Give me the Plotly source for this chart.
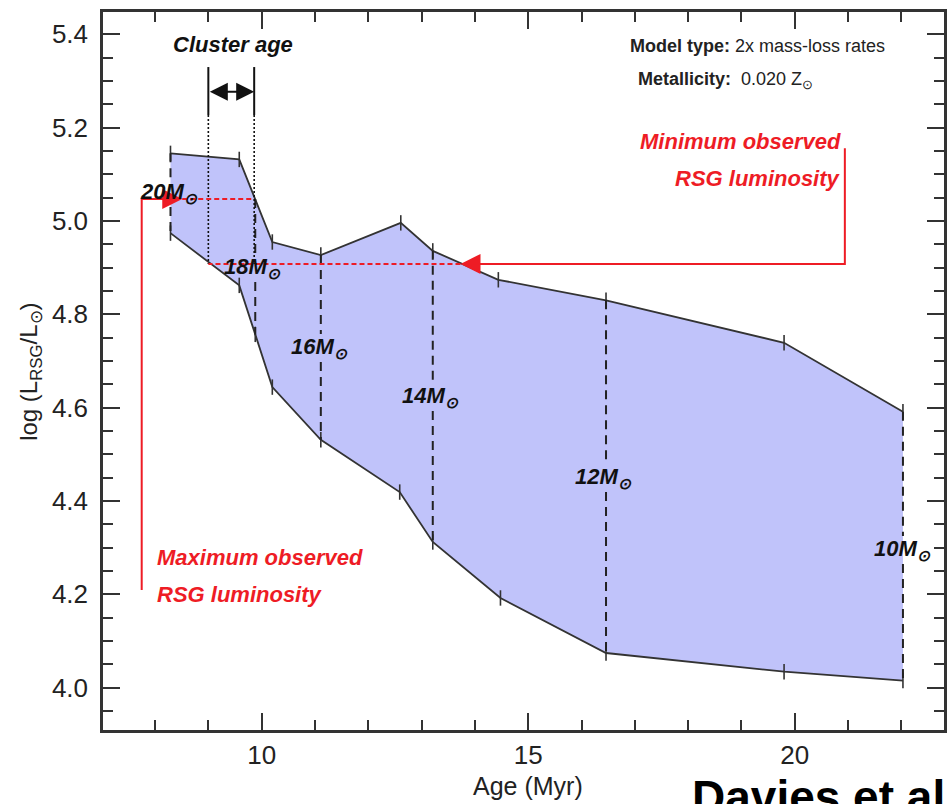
import plotly.graph_objects as go

# Envelope of red-supergiant luminosity versus cluster age
upper_age = [8.29, 9.58, 10.20, 11.11, 12.61, 13.21, 14.44, 16.46, 19.80, 22.03]
upper_logL = [5.145, 5.132, 4.955, 4.927, 4.996, 4.936, 4.874, 4.830, 4.739, 4.591]
lower_age = [8.29, 9.58, 9.88, 10.20, 11.11, 12.59, 13.21, 14.48, 16.46, 19.80, 22.03]
lower_logL = [4.974, 4.862, 4.757, 4.644, 4.531, 4.419, 4.312, 4.192, 4.074, 4.034, 4.015]

# Individual mass tracks (dashed verticals) and their labels
track_mass = ["20", "18", "16", "14", "12", "10"]
track_age = [8.29, 9.88, 11.11, 13.21, 16.46, 22.03]
track_top = [5.145, 5.047, 4.927, 4.936, 4.830, 4.591]
track_bottom = [4.974, 4.757, 4.531, 4.312, 4.074, 4.015]
label_age = [8.27, 9.82, 11.09, 13.17, 16.42, 22.03]
label_logL = [5.060, 4.899, 4.728, 4.623, 4.449, 4.295]

# Cluster age bracket and observed RSG luminosity limits
cluster_age = [9.0, 9.86]
cluster_bar_top = 5.33
cluster_bar_mid = 5.227
cluster_arrow_logL = 5.277
L_obs_max = 5.047
L_obs_min = 4.908
max_arrow_x, max_arrow_from, max_arrow_tip = 7.75, 4.209, 8.51
min_arrow_x, min_arrow_from, min_arrow_tip = 20.94, 5.156, 13.73

FILL = "#c0c3fa"
EDGE = "#333333"
RED = "#ee1c25"
SANS = "Liberation Sans, Arial, sans-serif"
GAP = 0.03

fig = go.Figure()

# shaded region
fig.add_trace(go.Scatter(
    x=upper_age + lower_age[::-1], y=upper_logL + lower_logL[::-1],
    mode="lines", fill="toself", fillcolor=FILL, line=dict(width=0),
    hoverinfo="skip"))

# upper and lower envelopes with vertex ticks
for xs, ys in ((upper_age, upper_logL), (lower_age, lower_logL)):
    fig.add_trace(go.Scatter(
        x=xs, y=ys, mode="lines+markers",
        line=dict(color=EDGE, width=1.8),
        marker=dict(symbol="line-ns-open", size=11, color=EDGE,
                    line=dict(width=1.6, color=EDGE))))

# dashed mass tracks, broken where the label sits
dx, dy = [], []
for a, top, bot, ly in zip(track_age, track_top, track_bottom, label_logL):
    if bot < ly < top:
        dx += [a, a, None, a, a, None]
        dy += [top, min(top, ly + GAP), None, max(bot, ly - GAP), bot, None]
    else:
        dx += [a, a, None]
        dy += [top, bot, None]
fig.add_trace(go.Scatter(x=dx, y=dy, mode="lines",
                         line=dict(color="#222222", width=2, dash="9px,6px")))

# cluster age bracket: solid caps then dotted guides
cx, cy, sx, sy = [], [], [], []
for a in cluster_age:
    sx += [a, a, None]
    sy += [cluster_bar_top, cluster_bar_mid, None]
    cx += [a, a, None]
    cy += [cluster_bar_mid, L_obs_min, None]
fig.add_trace(go.Scatter(x=sx, y=sy, mode="lines", line=dict(color="#111111", width=2)))
fig.add_trace(go.Scatter(x=cx, y=cy, mode="lines",
                         line=dict(color="#111111", width=1.6, dash="2px,2px")))

# red observed-luminosity guides
fig.add_trace(go.Scatter(
    x=[max_arrow_tip, cluster_age[1], None, min_arrow_tip, cluster_age[0]],
    y=[L_obs_max, L_obs_max, None, L_obs_min, L_obs_min],
    mode="lines", line=dict(color=RED, width=2, dash="5px,3px")))
fig.add_trace(go.Scatter(
    x=[max_arrow_x, max_arrow_x, max_arrow_tip - 0.2, None,
       min_arrow_x, min_arrow_x, min_arrow_tip + 0.2],
    y=[max_arrow_from, L_obs_max, L_obs_max, None,
       min_arrow_from, L_obs_min, L_obs_min],
    mode="lines", line=dict(color=RED, width=2)))

annotations = []
# arrowheads
for tip, start, ly in ((max_arrow_tip, max_arrow_x, L_obs_max),
                       (min_arrow_tip, min_arrow_x, L_obs_min)):
    annotations.append(dict(x=tip, y=ly, ax=tip + (start - tip) * 0.3, ay=ly,
                            xref="x", yref="y", axref="x", ayref="y", text="",
                            showarrow=True, arrowhead=2, arrowsize=2,
                            arrowwidth=2, arrowcolor=RED))
annotations.append(dict(x=cluster_age[1], y=cluster_arrow_logL, ax=cluster_age[0],
                        ay=cluster_arrow_logL, xref="x", yref="y", axref="x", ayref="y",
                        text="", showarrow=True, arrowhead=2, arrowside="end+start",
                        arrowsize=1.8, arrowwidth=2, arrowcolor="#111111"))

lab_font = dict(family=SANS, size=22, color="#111111", weight="bold", style="italic")
for m, a, ly in zip(track_mass, label_age, label_logL):
    annotations.append(dict(x=a, y=ly, xref="x", yref="y", showarrow=False,
                            text=f"{m}M<sub>⊙</sub>", font=lab_font))

annotations.append(dict(x=9.47, y=5.379, xref="x", yref="y",
                        showarrow=False, text="Cluster age", font=lab_font))

red_font = dict(family=SANS, size=22, color=RED, weight="bold", style="italic")
annotations += [
    dict(x=20.9, y=5.171, xref="x", yref="y", xanchor="right", showarrow=False,
         text="Minimum observed", font=red_font),
    dict(x=20.9, y=5.092, xref="x", yref="y", xanchor="right", showarrow=False,
         text="RSG luminosity", font=red_font),
    dict(x=8.0, y=4.278, xref="x", yref="y", xanchor="left", showarrow=False,
         text="Maximum observed", font=red_font),
    dict(x=8.0, y=4.199, xref="x", yref="y", xanchor="left", showarrow=False,
         text="RSG luminosity", font=red_font),
]

info_font = dict(family=SANS, size=18, color="#222222")
annotations += [
    dict(x=16.87, y=5.375, xref="x", yref="y", xanchor="left", showarrow=False,
         text="<b>Model type:</b> 2x mass-loss rates", font=info_font),
    dict(x=17.02, y=5.302, xref="x", yref="y", xanchor="left", showarrow=False,
         text="<b>Metallicity:</b>  0.020 Z<sub>⊙</sub>", font=info_font),
]

# axis titles
annotations += [
    dict(x=-0.087, y=0.4986, xref="paper", yref="paper", xanchor="center",
         yanchor="middle", showarrow=False, textangle=-90,
         text="log (L<sub>RSG</sub>/L<sub>⊙</sub>)",
         font=dict(family=SANS, size=24, color="#222222")),
    dict(x=0.505, y=-0.078, xref="paper", yref="paper", xanchor="center",
         yanchor="middle", showarrow=False,
         text="Age (Myr)", font=dict(family=SANS, size=25, color="#222222")),
    dict(x=0.698, y=-0.055, xref="paper", yref="paper", xanchor="left", yanchor="top",
         showarrow=False, text="<b>Davies et al</b>",
         font=dict(family=SANS, size=46, color="#000000")),
]

axis_common = dict(showgrid=False, zeroline=False, showline=True, linewidth=2.5,
                   linecolor=EDGE, mirror="ticks", ticks="inside", ticklen=17,
                   tickwidth=2, tickcolor=EDGE,
                   tickfont=dict(family=SANS, size=26, color="#222222"))

fig.update_layout(
    width=947, height=804,
    margin=dict(l=103, r=0, t=12, b=74),
    paper_bgcolor="white", plot_bgcolor="white",
    showlegend=False,
    xaxis=dict(range=[7.024, 22.80], tick0=0, dtick=5, ticklabelstandoff=0,
               minor=dict(dtick=1, tick0=0, ticks="inside", ticklen=10,
                          tickwidth=1.6, tickcolor=EDGE, showgrid=False),
               **axis_common),
    yaxis=dict(range=[3.909, 5.448], tick0=4.0, dtick=0.2, tickformat=".1f",
               ticklabelstandoff=7,
               minor=dict(dtick=0.05, tick0=4.0, ticks="inside", ticklen=10,
                          tickwidth=1.6, tickcolor=EDGE, showgrid=False),
               **axis_common),
    annotations=annotations,
)

fig.write_html("out.html")
